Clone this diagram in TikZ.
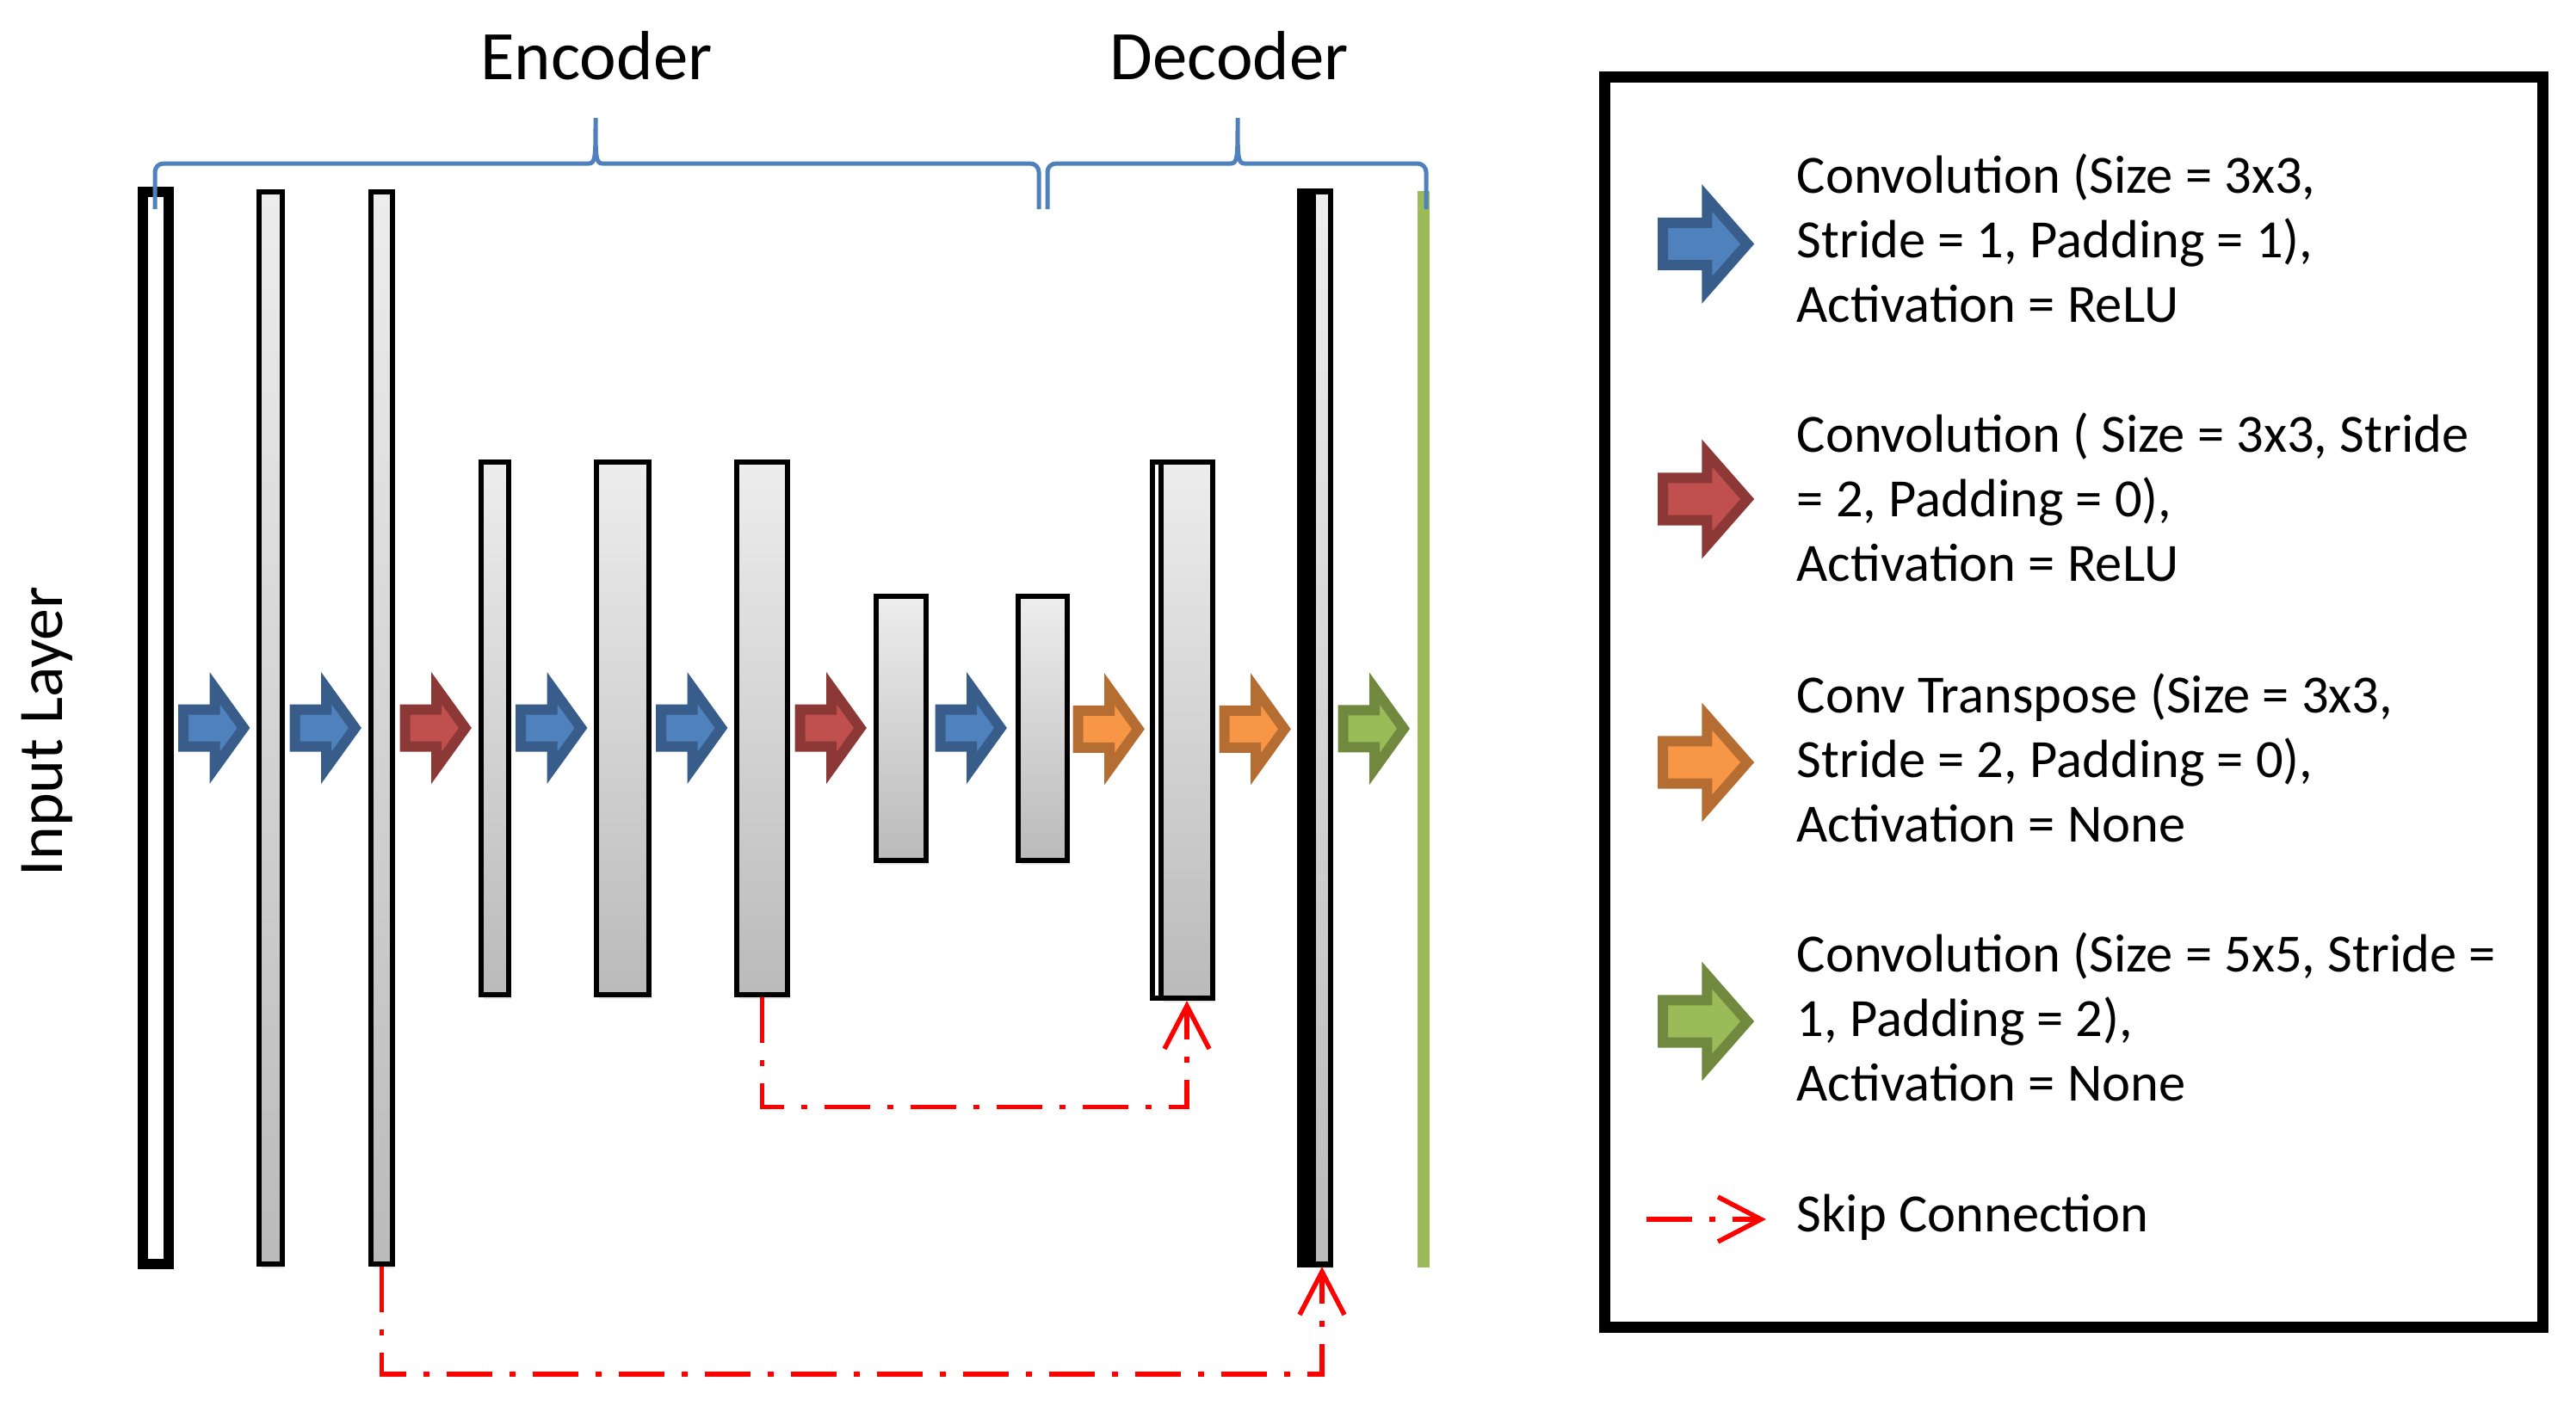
\documentclass[tikz,border=0pt]{standalone}
\usepackage{fontspec}
\setmainfont{Carlito}
\usetikzlibrary{arrows.meta,calc,shadows}

\definecolor{convblue}{RGB}{79,129,189}
\definecolor{convblueD}{RGB}{56,93,138}
\definecolor{convred}{RGB}{192,80,77}
\definecolor{convredD}{RGB}{140,56,54}
\definecolor{convorange}{RGB}{247,150,70}
\definecolor{convorangeD}{RGB}{182,109,49}
\definecolor{convgreen}{RGB}{155,187,89}
\definecolor{convgreenD}{RGB}{113,137,63}
\definecolor{braceblue}{RGB}{79,129,189}

\tikzset{
  layer/.style={draw, line width=0.06cm, inner sep=0pt, top color=black!7, bottom color=black!27,
    minimum height=6.19cm, drop shadow={opacity=0.18, shadow xshift=0.03cm, shadow yshift=-0.05cm}},
  tallbox/.style={minimum height=12.46cm},
  smallbox/.style={minimum height=3.07cm},
  arrblue/.style={fill=convblue, draw=convblueD, line width=0.12cm},
  arrred/.style={fill=convred, draw=convredD, line width=0.12cm},
  arrorange/.style={fill=convorange, draw=convorangeD, line width=0.12cm},
  arrgreen/.style={fill=convgreen, draw=convgreenD, line width=0.12cm},
  skip/.style={draw=red, line width=0.055cm, dash pattern=on 0.53cm off 0.2cm on 0.07cm off 0.2cm,
    -{Straight Barb[length=0.5cm,width=0.52cm]}},
  brace/.style={draw=braceblue, line width=0.05cm},
  lgd/.style={anchor=west, inner sep=0pt, align=left, font=\fontsize{17.8}{21.3}\selectfont}
}

% block arrow: [scale], style, centre
\newcommand{\convarrow}[3][]{%
  \draw[#2,shift={#3},#1] (-0.37,-0.215) -- (-0.005,-0.215) -- (-0.005,-0.465) -- (0.33,0)
    -- (-0.005,0.465) -- (-0.005,0.215) -- (-0.37,0.215) -- cycle;}

\begin{document}
\begin{tikzpicture}
\useasboundingbox (0,0) rectangle (29.93,-16.33);
%layers
\node[draw, line width=0.12cm, fill=white, minimum width=0.30cm, minimum height=12.46cm, inner sep=0pt] (in) at (1.81,-8.46) {};
\node[layer, tallbox, minimum width=0.27cm] (c1) at (3.145,-8.46) {};
\node[layer, tallbox, minimum width=0.25cm] (c2) at (4.435,-8.46) {};
\node[layer, minimum width=0.32cm] (c3) at (5.75,-8.46) {};
\node[layer, minimum width=0.61cm] (c4) at (7.235,-8.46) {};
\node[layer, minimum width=0.59cm] (c5) at (8.855,-8.46) {};
\node[layer, smallbox, minimum width=0.58cm] (c6) at (10.47,-8.46) {};
\node[layer, smallbox, minimum width=0.57cm] (c7) at (12.115,-8.46) {};
\node[draw, line width=0.06cm, fill=white, minimum width=0.70cm, minimum height=6.23cm, inner sep=0pt] (d1a) at (13.74,-8.485) {};
\node[layer, minimum width=0.60cm, minimum height=6.23cm] (d1b) at (13.79,-8.485) {};
\node[draw, line width=0.06cm, fill=black, minimum width=0.36cm, minimum height=12.48cm, inner sep=0pt] (d2a) at (15.28,-8.46) {};
\node[layer, tallbox, minimum width=0.20cm] (d2b) at (15.36,-8.46) {};
\node[fill=convgreen, minimum width=0.14cm, minimum height=12.51cm, inner sep=0pt] (out) at (16.54,-8.475) {};
%arrows between layers
\convarrow{arrblue}{($(in.east)!0.5!(c1.west)$)}
\convarrow{arrblue}{($(c1.east)!0.5!(c2.west)$)}
\convarrow{arrred}{($(c2.east)!0.5!(c3.west)$)}
\convarrow{arrblue}{($(c3.east)!0.5!(c4.west)$)}
\convarrow{arrblue}{($(c4.east)!0.5!(c5.west)$)}
\convarrow{arrred}{($(c5.east)!0.5!(c6.west)$)}
\convarrow{arrblue}{($(c6.east)!0.5!(c7.west)$)}
\convarrow{arrorange}{($(c7.east)!0.5!(d1a.west)$)}
\convarrow{arrorange}{($(d1a.east)!0.5!(d2a.west)$)}
\convarrow{arrgreen}{($(d2a.east)!0.5!(out.west)$)}
%skip connections
\draw[skip] (c5.south) -- ++(0,-1.28) -| (d1b.south);
\draw[skip] (c2.south) -- ++(0,-1.25) -| (d2b.south);
%braces
\draw[brace] (1.80,-2.43) -- (1.80,-2.00) to[out=90,in=180] (1.90,-1.90) -- (6.84,-1.90)
  .. controls (6.92,-1.90) and (6.92,-1.82) .. (6.92,-1.37)
  .. controls (6.92,-1.82) and (6.92,-1.90) .. (7.00,-1.90) -- (11.97,-1.90)
  to[out=0,in=90] (12.07,-2.00) -- (12.07,-2.43);
\draw[brace] (12.17,-2.43) -- (12.17,-2.00) to[out=90,in=180] (12.27,-1.90) -- (14.30,-1.90)
  .. controls (14.38,-1.90) and (14.38,-1.82) .. (14.38,-1.37)
  .. controls (14.38,-1.82) and (14.38,-1.90) .. (14.46,-1.90) -- (16.47,-1.90)
  to[out=0,in=90] (16.57,-2.00) -- (16.57,-2.43);
%labels
\node[anchor=base, font=\fontsize{23}{27}\selectfont] (enc) at (6.93,-0.92) {Encoder};
\node[anchor=base, font=\fontsize{23}{27}\selectfont] (dec) at (14.28,-0.92) {Decoder};
\node[anchor=base, rotate=90, font=\fontsize{21}{25}\selectfont] (inlbl) at (0.72,-8.50) {Input Layer};
%legend
\node[draw, line width=0.13cm, minimum width=10.9cm, minimum height=14.53cm, inner sep=0pt] (legend) at (24.095,-8.16) {};
\convarrow[xscale=1.4,yscale=1.15]{arrblue}{(19.84,-2.835)}
\convarrow[xscale=1.4,yscale=1.15]{arrred}{(19.84,-5.80)}
\convarrow[xscale=1.4,yscale=1.15]{arrorange}{(19.84,-8.86)}
\convarrow[xscale=1.4,yscale=1.15]{arrgreen}{(19.84,-11.87)}
\node[lgd] (t1) at (20.87,-2.77) {Convolution (Size = 3x3,\\Stride = 1, Padding = 1),\\Activation = ReLU};
\node[lgd] (t2) at (20.87,-5.78) {Convolution ( Size = 3x3, Stride\\= 2, Padding = 0),\\Activation = ReLU};
\node[lgd] (t3) at (20.87,-8.81) {Conv Transpose (Size = 3x3,\\Stride = 2, Padding = 0),\\Activation = None};
\node[lgd] (t4) at (20.87,-11.82) {Convolution (Size = 5x5, Stride =\\1, Padding = 2),\\Activation = None};
\coordinate (sk1) at (19.13,-14.17);
\coordinate (sk2) at (20.52,-14.17);
\draw[skip] (sk1) -- (sk2);
\node[lgd] (t5) at (20.87,-14.15) {Skip Connection};
\end{tikzpicture}
\end{document}
